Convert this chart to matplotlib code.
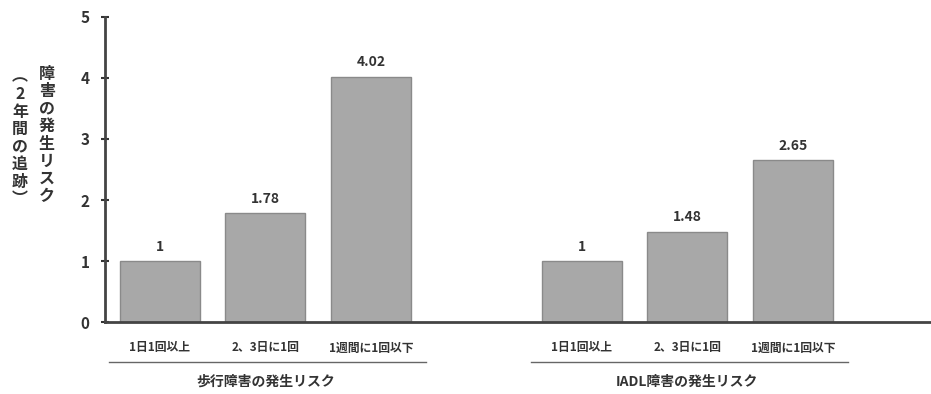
import matplotlib.pyplot as plt
import numpy as np

plt.rcParams['font.family'] = ['Noto Sans CJK JP', 'DejaVu Sans']

# risk ratios
categories = ['1日1回以上', '2、3日に1回', '1週間に1回以下']
walk_risk = [1, 1.78, 4.02]
iadl_risk = [1, 1.48, 2.65]
value_labels_walk = ['1', '1.78', '4.02']
value_labels_iadl = ['1', '1.48', '2.65']
group_labels = ['歩行障害の発生リスク', 'IADL障害の発生リスク']
ylabel_main = '障害の発生リスク'
ylabel_sub = '︵2年間の追跡︶'

fig = plt.figure(figsize=(9.31, 3.94), dpi=100)
ax = fig.add_axes([0.1128, 0.1827, 0.8872, 0.7742])

x1 = np.arange(3)
x2 = np.arange(3) + 4
bar_kw = dict(width=0.76, color='#a8a8a8', edgecolor='#8a8a8a', linewidth=1)
b1 = ax.bar(x1, walk_risk, **bar_kw)
b2 = ax.bar(x2, iadl_risk, **bar_kw)

for xs, vals, labs in [(x1, walk_risk, value_labels_walk), (x2, iadl_risk, value_labels_iadl)]:
    for x, v, t in zip(xs, vals, labs):
        ax.text(x, v + 0.12, t, ha='center', va='bottom', fontsize=10,
                fontweight='bold', color='#333333')

ax.set_xlim(-0.52, 7.31)
ax.set_ylim(0, 5)
ax.set_yticks(range(6))
ax.tick_params(axis='y', direction='inout', length=6, width=1.5, labelsize=11,
               colors='#333333', pad=8)
for lab in ax.get_yticklabels():
    lab.set_fontweight('bold')
ax.set_xticks([])
for s in ['top', 'right']:
    ax.spines[s].set_visible(False)
ax.spines['left'].set_linewidth(2)
ax.spines['bottom'].set_linewidth(2)
ax.spines['left'].set_color('#444444')
ax.spines['bottom'].set_color('#444444')

# category labels, underline and group label below the axis
trans = ax.get_xaxis_transform()
for xs, g in [(x1, group_labels[0]), (x2, group_labels[1])]:
    for x, c in zip(xs, categories):
        ax.text(x, -0.085, c, transform=trans, ha='center', va='center',
                fontsize=8.5, fontweight='bold', color='#333333')
    ax.plot([xs[0] - 0.48, xs[-1] + 0.52], [-0.13, -0.13], transform=trans,
            color='#666666', lw=1, clip_on=False)
    ax.text(xs[1], -0.195, g, transform=trans, ha='center', va='center',
            fontsize=10, fontweight='bold', color='#333333')

# vertical y label
fig.text(47 / 931, 1 - 135 / 394, '\n'.join(ylabel_main), ha='center', va='center',
         fontsize=11.5, fontweight='bold', color='#333333', linespacing=1.12)
fig.text(20 / 931, 1 - 138 / 394, '\n'.join(ylabel_sub), ha='center', va='center',
         fontsize=11.5, fontweight='bold', color='#333333', linespacing=1.12)

fig.savefig('out.png', dpi=100)
